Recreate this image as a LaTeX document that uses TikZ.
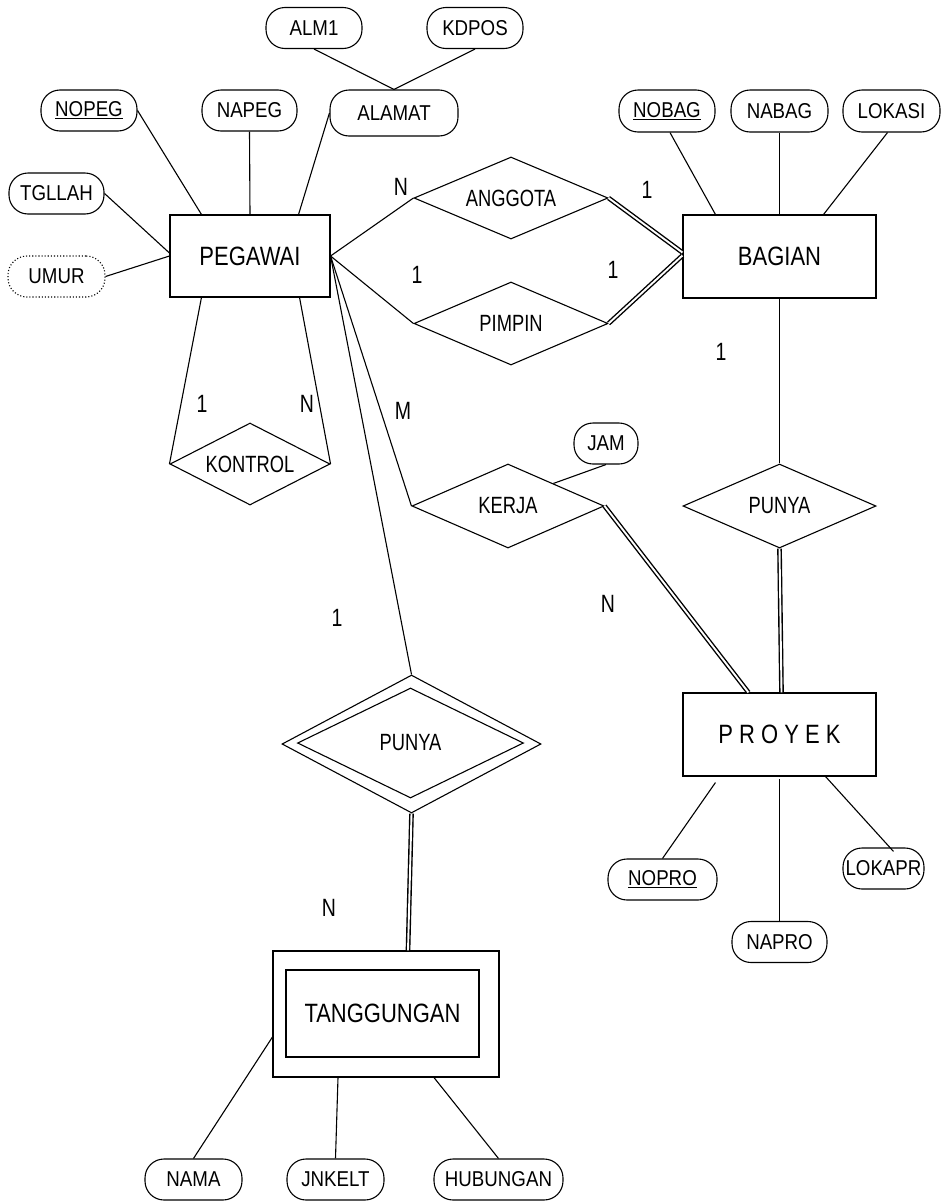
\documentclass[tikz,border=0pt]{standalone}
\usepackage{fontspec}
\setmainfont{Liberation Sans}[FakeStretch=0.78]
\newfontfamily\attrfont{Liberation Sans}[FakeStretch=0.87]
\newfontfamily\entfont{Liberation Sans}[FakeStretch=0.83]
\usetikzlibrary{shapes.geometric,calc}
\tikzset{
  base/.style={line width=1.1pt},
  entity/.style={base,draw,rectangle,inner sep=0pt,font=\entfont\fontsize{26.5}{30}\selectfont},
  rel/.style={base,draw,diamond,shape aspect=2.3,inner sep=0pt,font=\fontsize{23.5}{28}\selectfont},
  attr/.style={base,draw,rectangle,rounded corners=19pt,inner sep=0pt,minimum height=41pt,font=\attrfont\fontsize{21.5}{25}\selectfont},
  conn/.style={base},
  dbl/.style={line width=1.4pt,double,double distance=1.9pt},
  card/.style={inner sep=0pt,font=\fontsize{25}{30}\selectfont}
}
\begin{document}
\begin{tikzpicture}[x=1pt,y=-1pt]
\useasboundingbox (0,0) rectangle (941,1202);
\fill[white] (0,0) rectangle (941,1202);

% entities
\node[entity,minimum width=160pt,minimum height=82pt] (peg) at (250,256) {PEGAWAI};
\node[entity,minimum width=193pt,minimum height=83pt] (bag) at (779.5,256.5) {BAGIAN};
\node[entity,minimum width=193pt,minimum height=83pt] (pro) at (779.5,734.5) {P R O Y E K};
\node[entity,minimum width=226pt,minimum height=126pt] (tanout) at (386,1014) {};
\node[entity,minimum width=193pt,minimum height=87pt] (tan) at (382.5,1013.5) {TANGGUNGAN};

% relationships
\node[rel,minimum width=194pt,minimum height=82pt] (ang) at (511,198) {ANGGOTA};
\node[rel,minimum width=194pt,minimum height=83pt] (pim) at (511,323.5) {PIMPIN};
\node[rel,minimum width=160pt,minimum height=82pt] (kon) at (250,464) {KONTROL};
\node[rel,minimum width=192pt,minimum height=84pt] (ker) at (508,506) {KERJA};
\node[rel,minimum width=193pt,minimum height=84pt] (pun) at (779.5,506) {PUNYA};
\node[rel,minimum width=259pt,minimum height=138pt,shape aspect=1.9] (wpunout) at (411.5,744) {};
\node[rel,minimum width=226pt,minimum height=110pt,shape aspect=2] (wpun) at (410.5,743) {PUNYA};

% attributes
\node[attr,minimum width=96pt] (alm1) at (314,28) {ALM1};
\node[attr,minimum width=96pt] (kdpos) at (475,28) {KDPOS};
\node[attr,minimum width=128pt,minimum height=46pt] (alamat) at (394,113) {ALAMAT};
\node[attr,minimum width=96pt] (nopeg) at (89,110.5) {\underline{NOPEG}};
\node[attr,minimum width=95pt] (napeg) at (249.5,110.5) {NAPEG};
\node[attr,minimum width=95pt] (tgllah) at (56.5,193.5) {TGLLAH};
\node[attr,minimum width=97pt,dotted] (umur) at (56.5,276.5) {UMUR};
\node[attr,minimum width=96pt,minimum height=42pt] (nobag) at (667,111) {\underline{NOBAG}};
\node[attr,minimum width=97pt,minimum height=42pt] (nabag) at (779.5,111) {NABAG};
\node[attr,minimum width=97pt,minimum height=42pt] (lokasi) at (891.5,111) {LOKASI};
\node[attr,minimum width=64pt] (jam) at (606,443.5) {JAM};
\node[attr,minimum width=109pt] (nopro) at (662.5,879.5) {\underline{NOPRO}};
\node[attr,minimum width=95pt] (napro) at (779.5,942) {NAPRO};
\node[attr,minimum width=81pt] (lokapr) at (883.5,868.5) {LOKAPR};
\node[attr,minimum width=97pt] (nama) at (193.5,1179.5) {NAMA};
\node[attr,minimum width=97pt] (jnkelt) at (335.5,1179.5) {JNKELT};
\node[attr,minimum width=129pt] (hub) at (498.5,1179.5) {HUBUNGAN};

% attribute connectors
\draw[conn] (alm1.south) -- (alamat.north);
\draw[conn] (kdpos.south) -- (alamat.north);
\draw[conn] (nopeg.east) -- ($(peg.north west)+(32,0)$);
\draw[conn] (napeg.south) -- (peg.north);
\draw[conn] (alamat.west) -- ($(peg.north east)+(-32,0)$);
\draw[conn] (tgllah.east) -- ($(peg.west)+(0,-3)$);
\draw[conn] (umur.east) -- (peg.west);
\draw[conn] ($(nobag.south)+(3,0)$) -- ($(bag.north west)+(33,0)$);
\draw[conn] (nabag.south) -- (bag.north);
\draw[conn] ($(lokasi.south)+(-4,0)$) -- ($(bag.north east)+(-53,0)$);
\draw[conn] (jam.south) -- ($(ker.north)!0.47!(ker.east)$);
\draw[conn] (nopro.north) -- ($(pro.south west)+(33,6)$);
\draw[conn] (napro.north) -- ($(pro.south)+(0,2)$);
\draw[conn] ($(pro.south east)+(-51,0)$) -- ($(lokapr.north)+(10,4)$);
\draw[conn] (nama.north) -- ($(tanout.west)+(0,23)$);
\draw[conn] (jnkelt.north) -- ($(tanout.south)+(-48,0)$);
\draw[conn] (hub.north) -- ($(tanout.south)+(48,0)$);

% relationship connectors
\draw[conn] (peg.east) -- (ang.west);
\draw[conn] (peg.east) -- (pim.west);
\draw[conn] (peg.east) -- (ker.west);
\draw[conn] (peg.east) -- (wpunout.north);
\draw[conn] ($(peg.south west)+(32,0)$) -- (kon.west);
\draw[conn] ($(peg.south east)+(-31,0)$) -- (kon.east);
\draw[conn] (bag.south) -- (pun.north);
\draw[dbl] (ang.east) -- ($(bag.west)+(0,-4)$);
\draw[dbl] (pim.east) -- ($(bag.west)+(0,-1)$);
\draw[dbl] (ker.east) -- ($(pro.north west)+(66,0)$);
\draw[dbl] (pun.south) -- ($(pro.north)+(2,0)$);
\draw[dbl] (wpunout.south) -- ($(tanout.north)+(22,0)$);

% cardinalities
\node[card] (c1) at (401,187) {N};
\node[card] (c2) at (647,190) {1};
\node[card] (c3) at (417,275) {1};
\node[card] (c4) at (613,270) {1};
\node[card] (c5) at (721,352) {1};
\node[card] (c6) at (202,404) {1};
\node[card] (c7) at (307,404) {N};
\node[card] (c8) at (403,411) {M};
\node[card] (c9) at (608,604) {N};
\node[card] (c10) at (337,618) {1};
\node[card] (c11) at (329,908) {N};
\end{tikzpicture}
\end{document}
